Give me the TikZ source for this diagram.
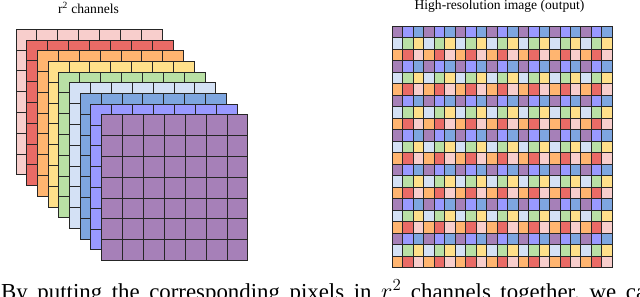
\documentclass[tikz,border=0pt]{standalone}
\usepackage{fontspec}
\setmainfont{Liberation Serif}
\definecolor{chpink}{HTML}{F8CECC}
\definecolor{chred}{HTML}{EA6B66}
\definecolor{chorange}{HTML}{FFB570}
\definecolor{chyellow}{HTML}{FFE08A}
\definecolor{chgreen}{HTML}{B9E0A5}
\definecolor{chlightblue}{HTML}{D4E1F5}
\definecolor{chblue}{HTML}{7EA6E0}
\definecolor{chperi}{HTML}{9999FF}
\definecolor{chpurple}{HTML}{A680B8}
% channel colours, back to front
\colorlet{ch0}{chpink}
\colorlet{ch1}{chred}
\colorlet{ch2}{chorange}
\colorlet{ch3}{chyellow}
\colorlet{ch4}{chgreen}
\colorlet{ch5}{chlightblue}
\colorlet{ch6}{chblue}
\colorlet{ch7}{chperi}
\colorlet{ch8}{chpurple}
\usetikzlibrary{positioning}

\begin{document}
\begin{tikzpicture}[x=0.03cm, y=-0.03cm,
    pixel/.style={draw=black!85, line width=0.8pt},
    title/.style={font=\fontsize{11.6}{13}\selectfont, inner sep=0pt}
  ]
    \useasboundingbox (0,0) rectangle (640,296);
    \clip (0,0) rectangle (640,296);

    % Left: r^2 low-resolution channels, stacked
    \foreach \k in {0,...,8} {
      \foreach \i in {0,...,6} {
        \foreach \j in {0,...,6} {
          \draw[pixel, fill=ch\k]
            ({16+10.7*\k+20.9*\i},{29.3+10.7*\k+20.8*\j})
            rectangle ++(20.9,20.8);
        }
      }
    }
    \node[title] (chtitle) at (88.5,7.5) {r\textsuperscript{2} channels};

    % Right: high-resolution image, pixels taken from the channels
    \foreach \i in {0,...,20} {
      \foreach \j in {0,...,20} {
        \pgfmathtruncatemacro{\c}{8-3*mod(\j,3)-mod(\i,3)}
        \draw[pixel, fill=ch\c]
          ({392.3+10.48*\i},{26+11.51*\j}) rectangle ++(10.48,11.51);
      }
    }
    \node[title] (hrtitle) at (499.5,6.5) {High-resolution image (output)};

    % Caption line below the figure
    \node[anchor=base west, inner sep=0pt, font=\fontsize{19.5}{21}\selectfont]
      (caption) at (1,299.5)
      {\spaceskip=0.42em\relax
       By putting the corresponding pixels in $r^2$ channels together, we can};
  \end{tikzpicture}
\end{document}
